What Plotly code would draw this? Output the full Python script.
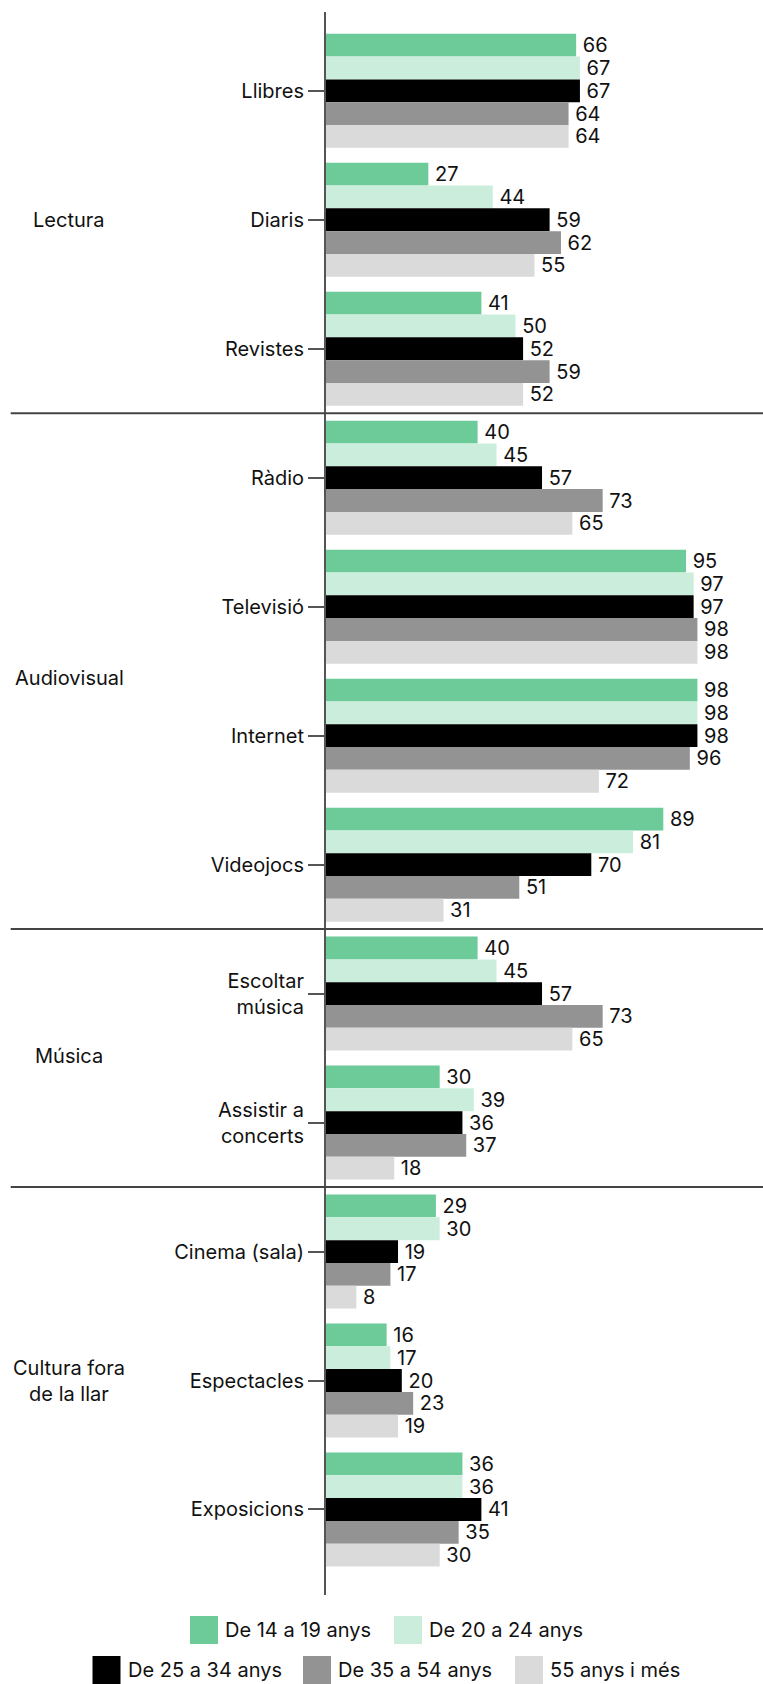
import plotly.graph_objects as go

categories = ["Llibres", "Diaris", "Revistes", "Ràdio", "Televisió", "Internet",
              "Videojocs", "Escoltar<br>música", "Assistir a<br>concerts",
              "Cinema (sala)", "Espectacles", "Exposicions"]

series_names = ["De 14 a 19 anys", "De 20 a 24 anys", "De 25 a 34 anys",
                "De 35 a 54 anys", "55 anys i més"]

de_14_19 = [66, 27, 41, 40, 95, 98, 89, 40, 30, 29, 16, 36]
de_20_24 = [67, 44, 50, 45, 97, 98, 81, 45, 39, 30, 17, 36]
de_25_34 = [67, 59, 52, 57, 97, 98, 70, 57, 36, 19, 20, 41]
de_35_54 = [64, 62, 59, 73, 98, 96, 51, 73, 37, 17, 23, 35]
de_55_mes = [64, 55, 52, 65, 98, 72, 31, 65, 18, 8, 19, 30]

series_values = [de_14_19, de_20_24, de_25_34, de_35_54, de_55_mes]
colors = ["#6dca99", "#cbeedc", "#000000", "#939393", "#dadada"]

groups = ["Lectura", "Audiovisual", "Música", "Cultura fora<br>de la llar"]
group_centers = [1, 4.55, 7.48, 10]
separators = [2.5, 6.5, 8.5]

FONT = "Inter"
FS = 20
TXT = "#111111"

W, H = 763, 1684
ML, MR, MT, MB = 326, 0, 12, 89
PW = W - ML - MR
PH = H - MT - MB

fig = go.Figure()
for name, vals, col in zip(series_names, series_values, colors):
    fig.add_trace(go.Bar(
        y=categories, x=vals, name=name, orientation="h",
        marker=dict(color=col, line=dict(width=0)),
        text=["\u2009" + str(v) for v in vals], textposition="outside",
        textfont=dict(family=FONT, size=FS, color=TXT),
        cliponaxis=False, constraintext="none", showlegend=False,
        hoverinfo="skip",
    ))

shapes = []
for s in separators:
    shapes.append(dict(type="line", xref="paper", yref="y",
                       x0=(10.7 - ML) / PW, x1=1, y0=s, y1=s,
                       line=dict(color="#444444", width=2)))

annotations = []
for g, c in zip(groups, group_centers):
    annotations.append(dict(text=g, xref="paper", yref="y", x=(69 - ML) / PW, y=c,
                            xanchor="center", yanchor="middle", showarrow=False,
                            align="center",
                            font=dict(family=FONT, size=FS, color=TXT)))

# manual legend (pixel layout positions)
legend_rows = [[0, 1], [2, 3, 4]]
row_y = [1630, 1670]
row_x = [[190, 394], [92.5, 303, 515]]
SQ = 28
def px2x(p):
    return (p - ML) / PW
def py2y(p):
    return (H - MB - p) / PH
for r, idxs in enumerate(legend_rows):
    for k, i in enumerate(idxs):
        x0 = row_x[r][k]
        yc = row_y[r]
        shapes.append(dict(type="rect", xref="paper", yref="paper",
                           x0=px2x(x0), x1=px2x(x0 + SQ),
                           y0=py2y(yc + SQ / 2), y1=py2y(yc - SQ / 2),
                           fillcolor=colors[i], line=dict(width=0), layer="above"))
        annotations.append(dict(text=series_names[i], xref="paper", yref="paper",
                                x=px2x(x0 + SQ + 5), y=py2y(yc),
                                xanchor="left", yanchor="middle", showarrow=False,
                                font=dict(family=FONT, size=FS, color=TXT)))

fig.update_layout(
    width=W, height=H,
    margin=dict(l=ML, r=MR, t=MT, b=MB, pad=0),
    paper_bgcolor="white", plot_bgcolor="white",
    barmode="group", bargap=0.116, bargroupgap=0,
    font=dict(family=FONT, size=FS, color=TXT),
    xaxis=dict(visible=False, range=[0, PW / 3.79], fixedrange=True),
    yaxis=dict(autorange=False, range=[11.663, -0.611], showline=True,
               linecolor="#555555", linewidth=2, ticks="outside", ticklen=16,
               tickwidth=2, tickcolor="#555555", showgrid=False, zeroline=False,
               fixedrange=True,
               tickfont=dict(family=FONT, size=FS, color=TXT)),
    shapes=shapes, annotations=annotations, showlegend=False,
)

fig.write_html("out.html", config={"displayModeBar": False},
               post_script="document.body.style.margin='0';document.body.style.overflow='hidden';")
